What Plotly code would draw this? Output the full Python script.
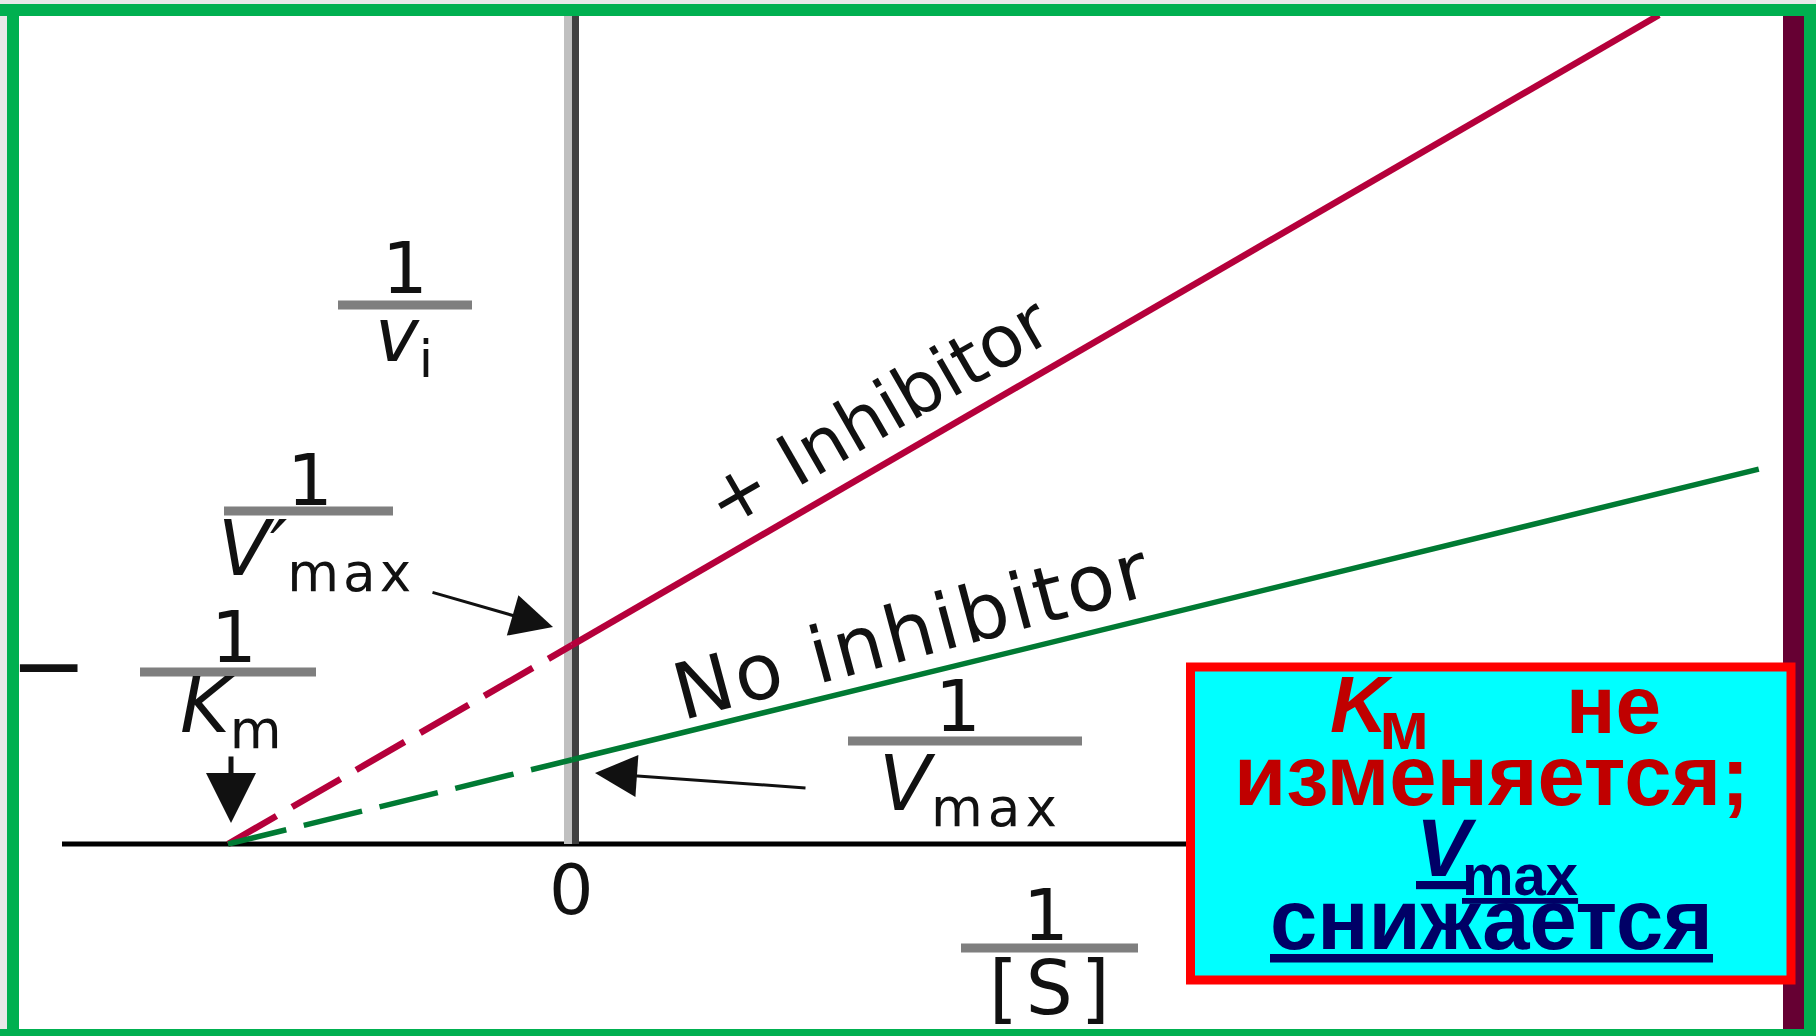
import plotly.graph_objects as go

W, H = 1816, 1036

# ---- data (Lineweaver-Burk plot, units with 1/Km = 1) ----
x_dash = [-1.0, 0.0]          # 1/[S], extrapolated part
y_inh_dash = [0.0, 0.578]     # + inhibitor, extrapolated
y_no_dash = [0.0, 0.245]      # no inhibitor, extrapolated
x_inh = [0.0, 3.16]
y_inh = [0.578, 2.41]
x_no = [0.0, 3.45]
y_no = [0.245, 1.09]

X_RANGE = [-1.6628, 3.6163]
Y_RANGE = [-0.5581, 2.4535]

RED = "#b5003b"
GREEN = "#007a33"
LABEL_FONT = "DejaVu Sans"
BOX_FONT = "Liberation Sans"
INK = "#111111"

fig = go.Figure()
fig.add_trace(go.Scatter(x=x_dash, y=y_inh_dash, mode="lines",
                         line=dict(color=RED, width=6.5, dash="56px,18px"), hoverinfo="skip"))
fig.add_trace(go.Scatter(x=x_dash, y=y_no_dash, mode="lines",
                         line=dict(color=GREEN, width=5.5, dash="60px,18px"), hoverinfo="skip"))
fig.add_trace(go.Scatter(x=x_inh, y=y_inh, mode="lines",
                         line=dict(color=RED, width=6.5), hoverinfo="skip"))
fig.add_trace(go.Scatter(x=x_no, y=y_no, mode="lines",
                         line=dict(color=GREEN, width=5.5), hoverinfo="skip"))


def px(x):
    return x / W


def py(y):
    return 1 - y / H


def prect(x0, y0, x1, y1, color, layer="above"):
    return dict(type="rect", xref="paper", yref="paper", x0=px(x0), x1=px(x1),
                y0=py(y1), y1=py(y0), fillcolor=color, line=dict(width=0), layer=layer)


def pline(x0, y0, x1, y1, color, width, layer="above"):
    return dict(type="line", xref="paper", yref="paper", x0=px(x0), x1=px(x1),
                y0=py(y0), y1=py(y1), line=dict(color=color, width=width), layer=layer)


shapes = []
# y axis (two-tone) at 1/[S] = 0
shapes.append(dict(type="rect", xref="x", yref="y", xsizemode="pixel", xanchor=0,
                   x0=-8, x1=0, y0=0, y1=Y_RANGE[1], fillcolor="#c0c0c0",
                   line=dict(width=0), layer="below"))
shapes.append(dict(type="rect", xref="x", yref="y", xsizemode="pixel", xanchor=0,
                   x0=0, x1=7, y0=0, y1=Y_RANGE[1], fillcolor="#404040",
                   line=dict(width=0), layer="below"))
# x axis
shapes.append(dict(type="line", xref="paper", yref="y", x0=px(62), x1=px(1190), y0=0, y1=0,
                   line=dict(color="#000000", width=5), layer="below"))
# fraction bars
for (x0, x1, y) in [(338, 472, 305), (224, 393, 511), (140, 316, 672),
                    (848, 1082, 741), (961, 1138, 948)]:
    shapes.append(pline(x0, y, x1, y, "#7f7f7f", 9))
# maroon side bar
shapes.append(prect(1783, 16, 1804, 1029, "#660033"))
# info box
shapes.append(dict(type="rect", xref="paper", yref="paper", x0=px(1190.5), x1=px(1791),
                   y0=py(980), y1=py(667), fillcolor="#00ffff",
                   line=dict(color="#ff0000", width=9), layer="above"))
# outer frame
shapes.append(prect(0, 0, W, 4, "#e8e8e8"))
shapes.append(prect(0, 0, 7, H, "#e8e8e8"))
shapes.append(prect(0, 4, W, 16, "#00b050"))
shapes.append(prect(7, 4, 19, H, "#00b050"))
shapes.append(prect(0, 1029, W, H, "#00b050"))
shapes.append(prect(1804, 4, W, H, "#00b050"))


def ann(text, x, y, size, family=LABEL_FONT, color=INK, **kw):
    d = dict(text=text, x=px(x), y=py(y), xref="paper", yref="paper", showarrow=False,
             xanchor="center", yanchor="middle",
             font=dict(size=size, family=family, color=color))
    d.update(kw)
    return d


def arrow(hx, hy, tx, ty, width, size, head=2, color=INK):
    return dict(text="", x=px(hx), y=py(hy), xref="paper", yref="paper",
                ax=tx - hx, ay=ty - hy, axref="pixel", ayref="pixel",
                showarrow=True, arrowhead=head, arrowsize=size, arrowwidth=width,
                arrowcolor=color)


def sp(text, ls):
    return "<span style='letter-spacing:%dpx'>%s</span>" % (ls, text)


annotations = [
    # 1 / v_i
    ann("1", 405, 268, 72),
    ann("<i>v</i><sub>" + sp("i", 2) + "</sub>", 405, 340, 74),
    # 1 / V'max
    ann("1", 310, 480, 72),
    ann("<i>V′</i><sub>" + sp("max", 4) + "</sub>", 316, 554, 76),
    # -1 / Km
    ann("−", 48, 665, 92),
    ann("1", 234, 637, 72),
    ann("<i>K</i><sub>" + sp("m", 4) + "</sub>", 233, 711, 76),
    # 1 / Vmax
    ann("1", 958, 706, 72),
    ann("<i>V</i><sub>" + sp("max", 5) + "</sub>", 971, 789, 76),
    # origin and x label
    ann("0", 571, 890, 70),
    ann("1", 1046, 915, 72),
    ann(sp("[S]", 8), 1053, 988, 74),
    # line labels
    ann("+ Inhibitor", 878, 412, 72, textangle=-30),
    ann(sp("No inhibitor", 3), 912, 631, 78, textangle=-15),
    # arrows
    arrow(231, 823, 231, 755, 5, 2.0),
    arrow(553, 627, 431, 592, 3, 2.8),
    arrow(595, 773, 807, 788, 3, 2.8),
    # box text
    ann("<b><i>K</i></b>", 1361, 704, 80, family=BOX_FONT, color="#c00000"),
    ann("<b>м</b>", 1404, 725, 68, family=BOX_FONT, color="#c00000"),
    ann("<b>не</b>", 1613, 704, 82, family=BOX_FONT, color="#c00000"),
    ann("<b>изменяется;</b>", 1491, 775, 85, family=BOX_FONT, color="#c00000"),
    ann("<b><i><u>V</u></i></b>", 1446, 847, 82, family=BOX_FONT, color="#000066"),
    ann("<b><u>max</u></b>", 1520, 874, 58, family=BOX_FONT, color="#000066"),
    ann("<b><u>снижается</u></b>", 1491, 919, 85, family=BOX_FONT, color="#000066"),
]

fig.update_layout(
    width=W, height=H,
    margin=dict(l=0, r=0, t=0, b=0, pad=0),
    paper_bgcolor="#ffffff", plot_bgcolor="#ffffff",
    showlegend=False,
    xaxis=dict(range=X_RANGE, visible=False, fixedrange=True),
    yaxis=dict(range=Y_RANGE, visible=False, fixedrange=True),
    shapes=shapes,
    annotations=annotations,
)

fig.write_html("out.html", config={"displayModeBar": False},
               post_script="document.body.style.margin='0';document.body.style.overflow='hidden';")
